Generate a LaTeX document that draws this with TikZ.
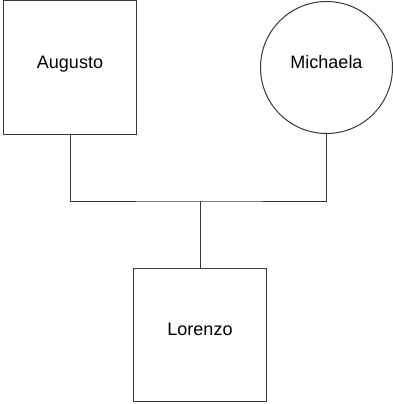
\documentclass[tikz,border=0pt]{standalone}
\usepackage{fontspec}
\setmainfont{Liberation Sans}
\begin{document}
\begin{tikzpicture}[x=1pt,y=-1pt,
  line width=1pt,
  ink/.style={draw=black!78},
  person/.style={ink, fill=white, inner sep=0pt},
  male/.style={person, rectangle, minimum width=133pt, minimum height=133pt},
  female/.style={person, circle, minimum size=132pt},
  pname/.style={anchor=base, font=\fontsize{18}{21}\selectfont},
  link/.style={ink}]
\useasboundingbox (0,0) rectangle (393,404);
\node[male] (aug) at (70,67.5) {};
\node[pname] (augt) at (70,68) {Augusto};
\node[female] (mich) at (326.5,67.5) {};
\node[pname] (micht) at (326.5,68) {Michaela};
\node[male] (lor) at (200,335) {};
\node[pname] (lort) at (200,335) {Lorenzo};
\coordinate (bar) at (200,201);
\draw[link] (aug.south) |- (bar) -| (mich.south);
\draw[link] (bar) -- (lor.north);
\end{tikzpicture}
\end{document}
